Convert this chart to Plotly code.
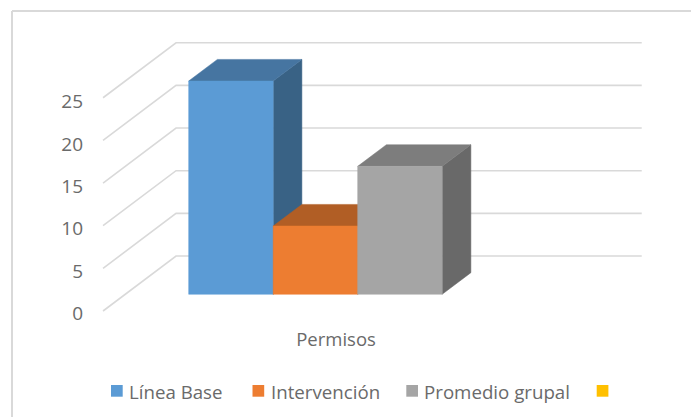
import plotly.graph_objects as go

categories = ["Permisos"]
series_names = ["Línea Base", "Intervención", "Promedio grupal", ""]
series_values = [25, 8, 15]
value_ticks = [0, 5, 10, 15, 20, 25]

W, H = 691, 417
PX_CAT, PX_VAL = 84.5, 8.53       # pixels per category-width / per value unit
X0_PX, Y0_PX = 166.5, 311.0       # pixel of x=0,v=0 at the front of the floor
DEPTH_X, DEPTH_V = 73 / PX_CAT, 55 / PX_VAL   # oblique shift of full depth
BAR_D0, BAR_D1 = 0.304, 0.697
WALL_X0, WALL_X1 = -0.751, 4.76

FRONT = ["#5B9BD5", "#ED7D31", "#A5A5A5", "#FFC000"]
TOP = ["#4675A1", "#B15E25", "#7D7D7D"]
SIDE = ["#396285", "#8F4C1E", "#696969"]
GRID = "#D9D9D9"
TEXT = "#6A6A6A"
FONT = "Open Sans"


def proj(x, v, d):
    return x + d * DEPTH_X, v + d * DEPTH_V


def face(corners, color, name):
    pts = [proj(*c) for c in corners]
    pts.append(pts[0])
    return go.Scatter(
        x=[p[0] for p in pts], y=[p[1] for p in pts], mode="lines", fill="toself",
        fillcolor=color, line=dict(color=color, width=0.5), name=name,
        hoverinfo="name", showlegend=False,
    )


fig = go.Figure()

# gridlines: diagonal side wall + back wall
for t in value_ticks:
    a = proj(WALL_X0, t, 0)
    b = proj(WALL_X0, t, 1)
    c = proj(WALL_X1, t, 1)
    fig.add_trace(go.Scatter(
        x=[a[0], b[0], c[0]], y=[a[1], b[1], c[1]], mode="lines",
        line=dict(color=GRID, width=1.6), hoverinfo="skip", showlegend=False,
    ))

for i, v in enumerate(series_values):
    x0, x1 = float(i), float(i + 1)
    n = series_names[i]
    fig.add_trace(face([(x1, 0, BAR_D0), (x1, 0, BAR_D1), (x1, v, BAR_D1), (x1, v, BAR_D0)], SIDE[i], n))
    fig.add_trace(face([(x0, v, BAR_D0), (x1, v, BAR_D0), (x1, v, BAR_D1), (x0, v, BAR_D1)], TOP[i], n))
    fig.add_trace(face([(x0, 0, BAR_D0), (x1, 0, BAR_D0), (x1, v, BAR_D0), (x0, v, BAR_D0)], FRONT[i], n))

# trace that only carries the second y axis with the tick labels
fig.add_trace(go.Scatter(x=[None], y=[None], yaxis="y2", showlegend=False, hoverinfo="skip"))

shapes = [
    dict(type="line", xref="paper", yref="paper", x0=12 / W, x1=12 / W, y0=0, y1=1 - 11 / H,
         line=dict(color=GRID, width=2)),
    dict(type="line", xref="paper", yref="paper", x0=12 / W, x1=1, y0=1 - 11 / H, y1=1 - 11 / H,
         line=dict(color=GRID, width=2)),
]
annotations = []
legend_sq = [111, 252.5, 406.3, 596.7]
legend_txt = [127, 268.5, 422, 0]
for name, color, sx, tx in zip(series_names, FRONT, legend_sq, legend_txt):
    shapes.append(dict(type="rect", xref="paper", yref="paper", x0=sx / W, x1=(sx + 11.7) / W,
                       y0=1 - 396.7 / H, y1=1 - 385 / H, fillcolor=color, line=dict(width=0)))
    if name:
        annotations.append(dict(text=name, xref="paper", yref="paper", x=tx / W, y=1 - 391 / H,
                                xanchor="left", yanchor="middle", showarrow=False,
                                font=dict(family=FONT, size=18.7, color=TEXT)))

fig.update_layout(
    width=W, height=H, margin=dict(l=0, r=0, t=0, b=0, pad=0),
    paper_bgcolor="white", plot_bgcolor="white", showlegend=False,
    shapes=shapes, annotations=annotations,
    xaxis=dict(range=[-X0_PX / PX_CAT, (W - X0_PX) / PX_CAT], domain=[0, 1], showgrid=False, zeroline=False,
               showline=False, anchor="free", position=1 - 326 / H,
               tickmode="array", tickvals=[2.006], ticktext=categories, ticks="",
               tickfont=dict(family=FONT, size=18.5, color=TEXT)),
    yaxis=dict(range=[(Y0_PX - H) / PX_VAL, Y0_PX / PX_VAL], domain=[0, 1], visible=False),
    yaxis2=dict(overlaying="y", anchor="free", position=83 / W, side="left",
                range=[(313.5 - H) / 8.48, 313.5 / 8.48], tickmode="array", tickvals=value_ticks,
                showgrid=False, zeroline=False, showline=False, ticks="",
                tickfont=dict(family=FONT, size=19, color=TEXT)),
)

fig.write_html("out.html", config={"displayModeBar": False},
               post_script="document.body.style.margin='0';document.documentElement.style.overflow='hidden';")
